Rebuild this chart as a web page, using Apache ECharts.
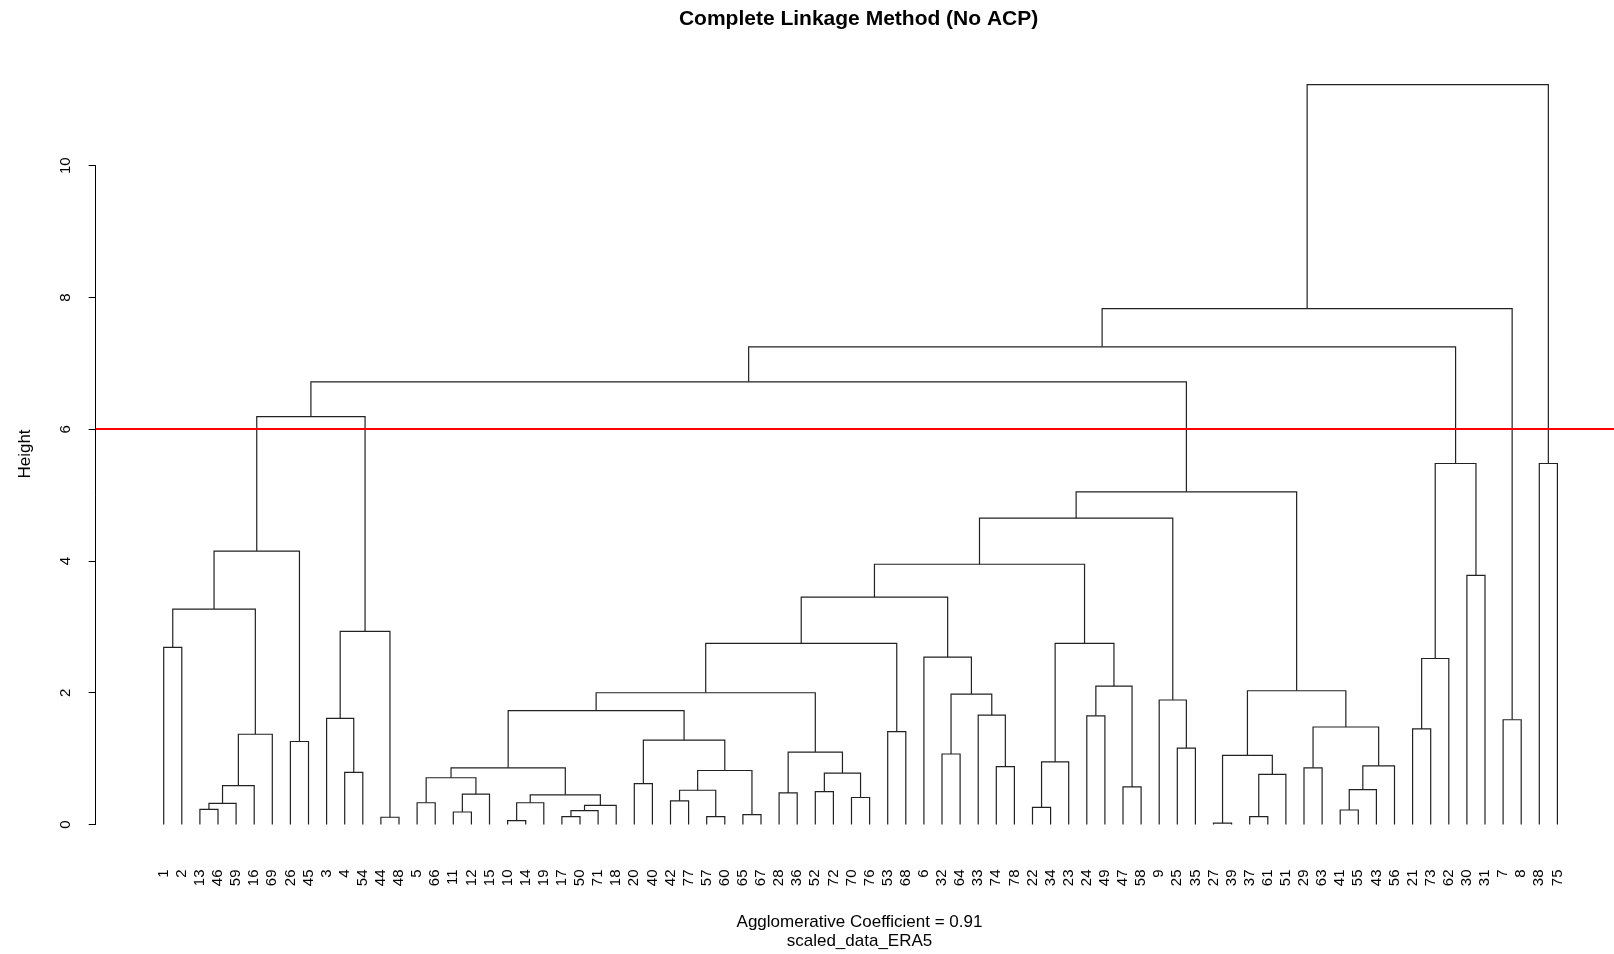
<!DOCTYPE html>
<html><head><meta charset="utf-8">
<script src="https://cdn.jsdelivr.net/npm/echarts@6/dist/echarts.min.js"></script>
<style>html,body{margin:0;padding:0;background:#fff}#c{width:1614px;height:954px}</style>
</head><body><div id="c"></div>
<script>
// Leaf labels in dendrogram order
const leafLabels = ['1','2','13','46','59','16','69','26','45','3','4','54','44','48','5','66','11','12','15','10',
  '14','19','17','50','71','18','20','40','42','77','57','60','65','67','28','36','52','72','70','76',
  '53','68','6','32','64','33','74','78','22','34','23','24','49','47','58','9','25','35','27','39',
  '37','61','51','29','63','41','55','43','56','21','73','62','30','31','7','8','38','75'];

// Merge table (R hclust convention): negative = leaf position (1-based), positive = earlier merge (1-based)
const mergeA = [-1,-3,2,3,4,1,-8,6,-11,-10,-13,10,8,
  -15,-17,15,14,-20,18,-23,20,21,19,17,-27,-29,-31,26,-33,28,25,24,-35,-37,-39,34,33,32,-41,38,
  -44,-47,-46,41,-43,40,-49,47,-52,-54,49,48,46,-57,-56,53,
  -59,-61,58,57,-64,-66,62,63,61,60,56,13,
  -70,69,-73,70,68,-75,73,-77,75];
const mergeB = [-2,-4,-5,-6,-7,5,-9,7,-12,9,-14,11,12,
  -16,-18,-19,16,-21,-22,-24,-25,-26,22,23,-28,-30,-32,27,-34,29,30,31,-36,-38,-40,35,36,37,-42,39,
  -45,-48,42,43,44,45,-50,-51,-53,-55,50,51,52,-58,54,55,
  -60,-62,-63,59,-65,-67,-68,-69,64,65,66,67,
  -71,-72,-74,71,72,-76,74,-78,76];
const mergeHeight = [2.69,0.23,0.32,0.59,1.37,3.27,1.26,4.15,0.79,1.61,0.11,2.93,6.19,
  0.33,0.19,0.46,0.71,0.06,0.33,0.12,0.21,0.29,0.45,0.86,0.62,0.36,0.12,0.52,0.15,0.82,1.28,1.73,0.48,0.50,0.41,0.78,1.10,2.00,1.41,2.75,
  1.07,0.88,1.66,1.98,2.54,3.45,0.26,0.95,1.65,0.57,2.10,2.75,3.95,1.16,1.89,4.65,
  0.02,0.12,0.76,1.05,0.86,0.22,0.53,0.89,1.48,2.03,5.05,6.72,
  1.45,2.52,3.78,5.48,7.25,1.59,7.83,5.48,11.23];

const cutHeight = 6;
const yTickStep = 2;
const yMax = 10;

// Build segments (x of merged node = midpoint of children, as in R)
const nodeX = [];
function childX(v){ return v < 0 ? (-v - 1) : nodeX[v - 1]; }
function childH(v){ return v < 0 ? 0 : mergeHeight[v - 1]; }
const segments = mergeA.map(function(a, i){
  const b = mergeB[i];
  const xa = childX(a), xb = childX(b);
  nodeX[i] = (xa + xb) / 2;
  return [xa, xb, childH(a), childH(b), mergeHeight[i]];
});

const chart = echarts.init(document.getElementById('c'), null, {renderer:'canvas'});
const FONT = 'Liberation Sans, Arial, Helvetica, sans-serif';
const gridTop = 165.7, gridBottom = 129.5;
chart.setOption({
  animation: false,
  backgroundColor: '#ffffff',
  grid: [
    {left: 95.7, right: 0, top: gridTop, bottom: gridBottom},
    {left: 154.65, right: 47.55, top: gridTop, bottom: gridBottom}
  ],
  xAxis: [
    {gridIndex: 0, type: 'value', min: -3.757, max: 80.127, show: false},
    {gridIndex: 1, type: 'category', data: leafLabels, boundaryGap: true,
     axisLine: {show: false}, axisTick: {show: false}, splitLine: {show: false},
     axisLabel: {interval: 0, rotate: 90, fontSize: 15, color: '#000', margin: 45, fontFamily: FONT, hideOverlap: false}}
  ],
  yAxis: [
    {gridIndex: 0, type: 'value', min: 0, max: yMax, interval: yTickStep,
     axisLine: {show: true, onZero: false, lineStyle: {color: '#000', width: 1}},
     axisTick: {show: true, length: 7, lineStyle: {color: '#000'}},
     axisLabel: {rotate: 90, fontSize: 15, color: '#000', margin: 22, fontFamily: FONT},
     splitLine: {show: false}},
    {gridIndex: 1, type: 'value', min: 0, max: yMax, show: false}
  ],
  graphic: [
    {type: 'text', x: 858.6, y: 19, style: {text: 'Complete Linkage Method (No ACP)', font: 'bold 21px ' + FONT, fill: '#000', textAlign: 'center', textVerticalAlign: 'middle'}},
    {type: 'text', x: 859.5, y: 922, style: {text: 'Agglomerative Coefficient = 0.91', font: '17px ' + FONT, fill: '#000', textAlign: 'center', textVerticalAlign: 'middle'}},
    {type: 'text', x: 859.5, y: 941, style: {text: 'scaled_data_ERA5', font: '17px ' + FONT, fill: '#000', textAlign: 'center', textVerticalAlign: 'middle'}},
    {type: 'text', x: 25, y: 454, rotation: Math.PI / 2, style: {text: 'Height', font: '17px ' + FONT, fill: '#000', textAlign: 'center', textVerticalAlign: 'middle'}}
  ],
  series: [{
    type: 'custom',
    xAxisIndex: 0, yAxisIndex: 0,
    clip: false,
    silent: true,
    data: segments,
    encode: {x: [0, 1], y: [2, 3, 4]},
    renderItem: function(params, api){
      const xa = api.value(0), xb = api.value(1), ha = api.value(2), hb = api.value(3), h = api.value(4);
      return {
        type: 'polyline',
        shape: {points: [api.coord([xa, ha]), api.coord([xa, h]), api.coord([xb, h]), api.coord([xb, hb])]},
        style: {stroke: '#222', lineWidth: 1.2, fill: null}
      };
    },
    markLine: {
      silent: true, symbol: 'none', label: {show: false},
      lineStyle: {color: '#ff0000', width: 2, type: 'solid'},
      data: [{yAxis: cutHeight}]
    }
  }]
});
</script></body></html>
